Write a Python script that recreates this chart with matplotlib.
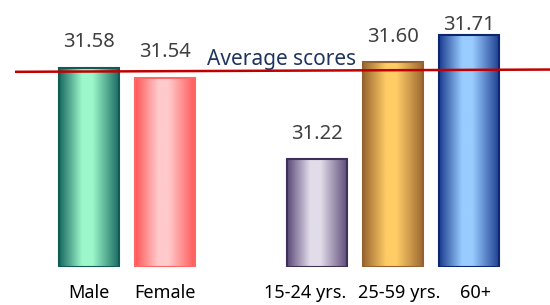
import matplotlib
matplotlib.use("Agg")
import matplotlib.pyplot as plt
import matplotlib.transforms as mtransforms
import numpy as np
from matplotlib.colors import LinearSegmentedColormap
from matplotlib.patches import Rectangle

categories = ["Male", "Female", "", "15-24 yrs.", "25-59 yrs.", "60+"]
scores = [31.58, 31.54, None, 31.22, 31.60, 31.71]
average_line = [31.563, 31.572]  # red reference line, left end -> right end
average_label = "Average scores"

# (dark edge, light centre, outline) per bar
bar_colors = [
    ("#17675f", "#9cf8cb", "#0f5c55"),
    ("#ff5656", "#ffcacb", "#ff6666"),
    None,
    ("#5b4978", "#e2dcea", "#3e3058"),
    ("#9a6630", "#ffcc66", "#946230"),
    ("#1b3c8e", "#99ccff", "#0b2672"),
]
# small horizontal nudges of the category labels (pixels), as in the source
label_nudge = [0, 0, 0, -12, 6, 7]
# gap between bar top and value label (points); the tallest one sits lower
value_gap = [11, 11, 0, 11, 11, 0]

plt.rcParams["font.family"] = ["Noto Sans", "DejaVu Sans"]

fig = plt.figure(figsize=(5.5, 3.05), dpi=100)
ax = fig.add_axes([0, 0.123, 1, 0.877])
ax.set_xlim(-1.171, 6.066)
ax.set_ylim(30.792, 31.846)
for s in ax.spines.values():
    s.set_visible(False)
ax.set_yticks([])

x = np.arange(len(categories))
width = 0.79
ymin = ax.get_ylim()[0]

for xi, val, cols, gap in zip(x, scores, bar_colors, value_gap):
    if val is None:
        continue
    dark, light, edge = cols
    cmap = LinearSegmentedColormap.from_list(
        "g", [(0, dark), (0.38, light), (0.55, light), (1.0, dark)])
    grad = np.linspace(0, 1, 256).reshape(1, -1)
    left = xi - width / 2
    im = ax.imshow(grad, cmap=cmap, aspect="auto",
                   extent=(left, left + width, ymin, val), zorder=2)
    rect = Rectangle((left, ymin), width, val - ymin, facecolor="none",
                     edgecolor=edge, linewidth=1.5, zorder=3)
    ax.add_patch(rect)
    im.set_clip_path(rect)
    ax.annotate(f"{val:.2f}", (xi, val), xytext=(0, gap), textcoords="offset points",
                ha="center", va="bottom", fontsize=14.5, color="#404040")

ax.plot([-0.974, 6.066], average_line, color="#c00000", linewidth=1.8, zorder=4,
        solid_capstyle="butt")
ax.text(2.53, 31.612, average_label, ha="center", va="center", fontsize=15,
        color="#1f3560", zorder=5)

keep = [i for i, c in enumerate(categories) if c]
ax.set_xticks(keep)
ax.set_xticklabels([categories[i] for i in keep], fontsize=13, color="black")
ax.tick_params(axis="x", length=0, pad=12)
for lbl, i in zip(ax.get_xticklabels(), keep):
    shift = mtransforms.ScaledTranslation(label_nudge[i] / 100, 0, fig.dpi_scale_trans)
    lbl.set_transform(lbl.get_transform() + shift)

fig.savefig("out.png", dpi=100)
